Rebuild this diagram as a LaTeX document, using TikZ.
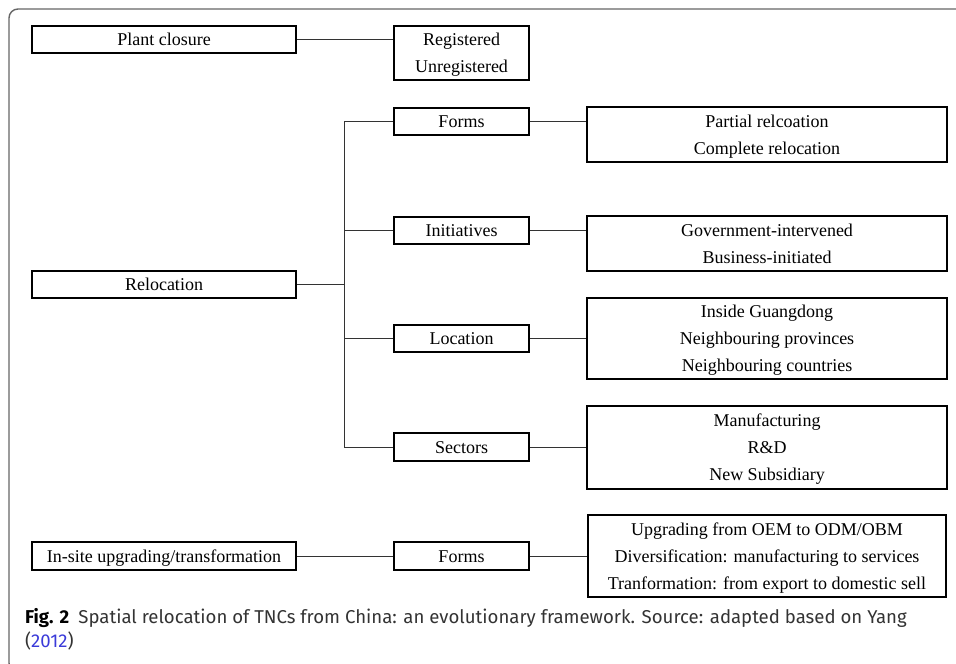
\documentclass[tikz,border=0pt]{standalone}
\usepackage{fontspec}
\setmainfont{Liberation Serif}
\newfontfamily\capfont{Fira Sans}
\definecolor{framegray}{HTML}{666666}
\definecolor{linkblue}{HTML}{3B3BD9}
\definecolor{captext}{HTML}{333333}
\begin{document}
\begin{tikzpicture}[x=1pt,y=-1pt,
  box/.style={draw=black, line width=1.7pt, inner sep=0pt, align=center,
    text depth=0pt, font=\fontsize{18}{27}\selectfont},
  onebox/.style={box, text height=12.5pt},
  conn/.style={draw=black!80, line width=1pt}]
\useasboundingbox (0,0) rectangle (956,664);
\begin{scope}
\clip (0,0) rectangle (956,664);
\draw[framegray, line width=1.4pt, rounded corners=9pt] (980,9) -- (9,9) -- (9,672) -- (980,672);
\end{scope}
% left column
\node[onebox, minimum width=264pt, minimum height=27pt] (pc) at (164,39.5) {Plant closure};
\node[onebox, minimum width=264pt, minimum height=27pt] (reloc) at (164,284.5) {Relocation};
\node[onebox, minimum width=264pt, minimum height=28pt] (insite) at (164,556) {In-site upgrading/transformation};
% middle column
\node[box, minimum width=135pt, minimum height=54pt] (reg) at (461.5,53) {Registered\\Unregistered};
\node[onebox, minimum width=135pt, minimum height=27pt] (forms) at (461.5,121.5) {Forms};
\node[onebox, minimum width=135pt, minimum height=27pt] (init) at (461.5,230.5) {Initiatives};
\node[onebox, minimum width=135pt, minimum height=27pt] (loc) at (461.5,338.5) {Location};
\node[onebox, minimum width=135pt, minimum height=28pt] (sect) at (461.5,447) {Sectors};
\node[onebox, minimum width=135pt, minimum height=28pt] (forms2) at (461.5,556) {Forms};
% right column
\node[box, minimum width=360pt, minimum height=55pt] (formsr) at (767,134.5) {Partial relcoation\\Complete relocation};
\node[box, minimum width=360pt, minimum height=55pt] (initr) at (767,243.5) {Government-intervened\\Business-initiated};
\node[box, minimum width=360pt, minimum height=81pt] (locr) at (767,338.5) {Inside Guangdong\\Neighbouring provinces\\Neighbouring countries};
\node[box, minimum width=360pt, minimum height=83pt] (sectr) at (767,447.5) {Manufacturing\\R\&D\\New Subsidiary};
\node[box, minimum width=358pt, minimum height=82pt] (upg) at (767,556) {Upgrading from OEM to ODM/OBM\\Diversification: manufacturing to services\\Tranformation: from export to domestic sell};
% trunk coordinates
\coordinate (tj) at (344,284.5);
\coordinate (tf) at (344,121.5);
\coordinate (ti) at (344,230.5);
\coordinate (tl) at (344,338.5);
\coordinate (ts) at (344,447);
% connectors
\draw[conn] (pc.east) -- (pc.east -| reg.west);
\draw[conn] (reloc.east) -- (tj);
\draw[conn] (tf) -- (ts);
\draw[conn] (tf) -- (forms.west);
\draw[conn] (ti) -- (init.west);
\draw[conn] (tl) -- (loc.west);
\draw[conn] (ts) -- (sect.west);
\draw[conn] (forms.east) -- (forms.east -| formsr.west);
\draw[conn] (init.east) -- (init.east -| initr.west);
\draw[conn] (loc.east) -- (loc.east -| locr.west);
\draw[conn] (sect.east) -- (sect.east -| sectr.west);
\draw[conn] (insite.east) -- (forms2.west);
\draw[conn] (forms2.east) -- (forms2.east -| upg.west);
% caption
\node[anchor=base west, inner sep=0pt, align=left, text=captext,
  font=\capfont\fontsize{18.6}{24}\selectfont] (cap) at (25,647)
  {\textcolor{black}{\textbf{Fig. 2}}\hspace{0.5em}Spatial relocation of TNCs from China: an evolutionary framework. Source: adapted based on Yang\\(\textcolor{linkblue}{2012})};
\end{tikzpicture}
\end{document}
